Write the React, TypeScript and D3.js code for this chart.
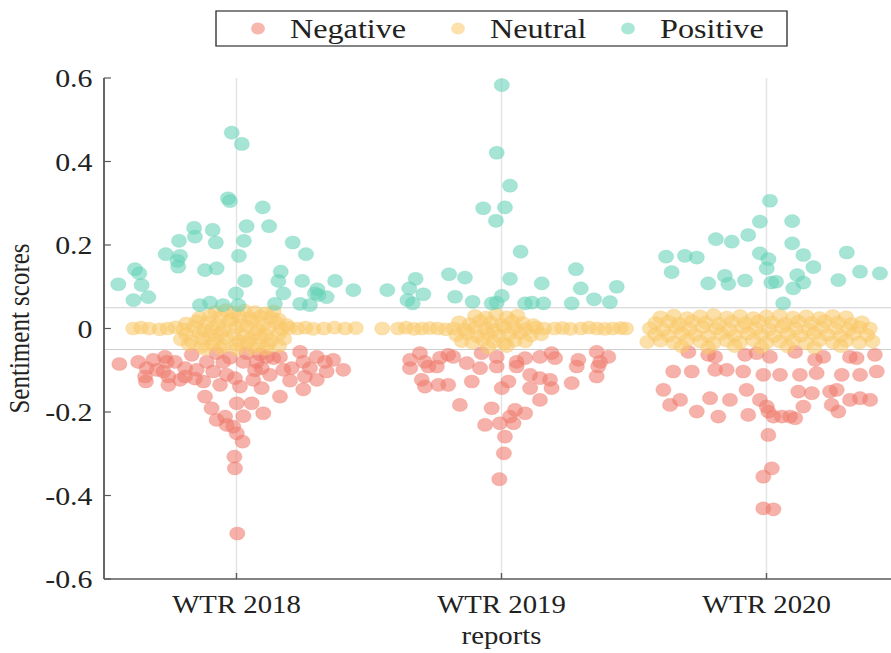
import * as d3 from 'd3';
import React, { useEffect, useRef } from 'react';

// each point: [x position in category units (1 = WTR 2018), sentiment score]
type Pt = [number, number];

const categories = ['WTR 2018', 'WTR 2019', 'WTR 2020'];
const yTicks = [-0.6, -0.4, -0.2, 0, 0.2, 0.4, 0.6];
const bandLines = [-0.05, 0.05];
const seriesNames = ['Negative', 'Neutral', 'Positive'];

const negative: Pt[] = [
  // WTR 2018
  [0.558, -0.085], [0.629, -0.08], [0.661, -0.095], [0.655, -0.115], [0.658, -0.127], [0.73, -0.068],
  [0.737, -0.08], [0.724, -0.103], [0.743, -0.115], [0.743, -0.135], [0.806, -0.095], [0.806, -0.115],
  [0.787, -0.123], [0.85, -0.099], [0.875, -0.127], [0.881, -0.163], [0.906, -0.191], [0.925, -0.219],
  [0.957, -0.211], [0.963, -0.231], [0.988, -0.235], [1.001, -0.251], [1.023, -0.271], [0.992, -0.307],
  [0.994, -0.335], [1.003, -0.491], [0.925, -0.059], [0.95, -0.08], [0.912, -0.103], [0.963, -0.111],
  [0.994, -0.119], [1.013, -0.139], [1.001, -0.179], [1.057, -0.179], [1.026, -0.21], [1.063, -0.123],
  [1.095, -0.143], [1.101, -0.203], [1.126, -0.111], [1.095, -0.095], [1.114, -0.068], [1.139, -0.071],
  [1.164, -0.068], [1.164, -0.163], [1.177, -0.099], [1.208, -0.095], [1.24, -0.056], [1.252, -0.08],
  [1.258, -0.115], [1.252, -0.146], [1.303, -0.068], [1.303, -0.123], [1.334, -0.08], [1.34, -0.103],
  [1.365, -0.075], [1.403, -0.099], [0.831, -0.063], [1.038, -0.059], [1.076, -0.08], [0.888, -0.08],
  [0.699, -0.099], [0.686, -0.075], [0.768, -0.08], [1.026, -0.08], [0.975, -0.07], [1.089, -0.062],
  [1.277, -0.095], [1.202, -0.125], [0.843, -0.12], [0.938, -0.135], [1.07, -0.1],
  // WTR 2019
  [1.655, -0.075], [1.692, -0.059], [1.711, -0.08], [1.724, -0.091], [1.756, -0.091], [1.699, -0.123],
  [1.711, -0.139], [1.762, -0.135], [1.799, -0.135], [1.799, -0.063], [1.818, -0.068], [1.869, -0.083],
  [1.888, -0.127], [1.843, -0.183], [1.919, -0.095], [1.925, -0.059], [1.982, -0.091], [2.001, -0.143],
  [2.026, -0.127], [1.963, -0.191], [1.938, -0.231], [1.994, -0.227], [2.032, -0.211], [2.051, -0.195],
  [2.089, -0.203], [2.045, -0.227], [2.013, -0.259], [2.009, -0.299], [1.992, -0.361], [2.057, -0.08],
  [2.089, -0.071], [2.108, -0.111], [2.108, -0.143], [2.145, -0.119], [2.145, -0.171], [2.183, -0.123],
  [2.189, -0.143], [2.145, -0.068], [2.189, -0.059], [2.202, -0.071], [2.265, -0.131], [2.29, -0.075],
  [2.284, -0.091], [2.359, -0.056], [2.372, -0.08], [2.365, -0.091], [2.403, -0.068], [2.359, -0.115],
  [2.057, -0.091], [1.982, -0.068], [1.768, -0.07], [1.655, -0.095],
  // WTR 2020
  [2.611, -0.147], [2.636, -0.183], [2.648, -0.103], [2.674, -0.171], [2.718, -0.103], [2.705, -0.056],
  [2.737, -0.199], [2.787, -0.167], [2.78, -0.063], [2.806, -0.068], [2.806, -0.099], [2.818, -0.211],
  [2.85, -0.099], [2.862, -0.171], [2.912, -0.103], [2.925, -0.147], [2.919, -0.063], [2.963, -0.059],
  [2.931, -0.207], [2.975, -0.171], [2.988, -0.111], [3.013, -0.068], [3.001, -0.187], [3.007, -0.199],
  [3.026, -0.211], [3.058, -0.211], [3.089, -0.211], [3.108, -0.215], [3.007, -0.255], [3.02, -0.335],
  [2.988, -0.355], [2.988, -0.431], [3.026, -0.433], [3.051, -0.111], [3.108, -0.056], [3.126, -0.111],
  [3.12, -0.151], [3.139, -0.187], [3.171, -0.155], [3.189, -0.107], [3.183, -0.075], [3.214, -0.068],
  [3.24, -0.151], [3.246, -0.183], [3.271, -0.199], [3.265, -0.147], [3.284, -0.111], [3.315, -0.171],
  [3.315, -0.068], [3.34, -0.071], [3.353, -0.167], [3.353, -0.111], [3.391, -0.171], [3.409, -0.063],
  [3.416, -0.103],
];

const neutral: Pt[] = [
  // WTR 2018
  [0.61, 0.0], [0.64, 0.002], [0.67, 0.0], [0.71, -0.002], [0.74, 0.0], [0.77, 0.003],
  [1.23, 0.0], [1.26, 0.002], [1.29, -0.001], [1.33, 0.0], [1.37, 0.002], [1.41, 0.0], [1.45, 0.001],
  [0.92, 0.04], [0.96, 0.044], [0.99, 0.038], [1.03, 0.043], [1.07, 0.039], [1.11, 0.036], [1.14, 0.041],
  [0.86, 0.026], [0.9, 0.031], [0.94, 0.027], [0.98, 0.022], [1.01, 0.03], [1.05, 0.025], [1.09, 0.029],
  [1.13, 0.026], [1.16, 0.021],
  [0.81, 0.012], [0.85, 0.017], [0.89, 0.014], [0.93, 0.008], [0.97, 0.016], [1.02, 0.009], [1.06, 0.018],
  [1.1, 0.01], [1.15, 0.014], [1.19, 0.008],
  [0.8, -0.002], [0.84, 0.003], [0.88, -0.005], [0.91, 0.001], [0.95, -0.004], [1.0, 0.002], [1.04, 0.004],
  [1.08, -0.003], [1.12, 0.0], [1.17, -0.002], [1.2, 0.001],
  [0.81, -0.014], [0.86, -0.01], [0.9, -0.017], [0.94, -0.011], [0.99, -0.015], [1.03, -0.019],
  [1.07, -0.012], [1.11, -0.016], [1.16, -0.013],
  [0.79, -0.026], [0.83, -0.03], [0.87, -0.024], [0.92, -0.028], [0.96, -0.023], [1.01, -0.031],
  [1.05, -0.026], [1.09, -0.022], [1.13, -0.029], [1.18, -0.025],
  [0.82, -0.038], [0.87, -0.042], [0.91, -0.036], [0.95, -0.041], [1.0, -0.039], [1.04, -0.035],
  [1.08, -0.041], [1.12, -0.037], [1.16, -0.042],
  [0.88, -0.049], [0.94, -0.047], [1.0, -0.05], [1.06, -0.048], [1.11, -0.049],
  // WTR 2019
  [1.55, 0.0], [1.61, 0.0], [1.64, 0.002], [1.67, -0.001], [1.7, 0.0], [1.73, 0.001], [1.76, 0.0], [1.79, -0.002],
  [2.2, 0.0], [2.23, 0.001], [2.26, -0.001], [2.3, 0.0], [2.33, 0.002], [2.36, 0.0], [2.39, -0.001],
  [2.42, 0.0], [2.45, 0.001], [2.47, 0.0],
  [1.9, 0.03], [1.94, 0.026], [1.98, 0.034], [2.02, 0.027], [2.06, 0.031],
  [1.84, 0.015], [1.88, 0.01], [1.92, 0.018], [1.96, 0.014], [2.0, 0.009], [2.04, 0.017], [2.08, 0.013], [2.12, 0.008],
  [1.82, 0.0], [1.86, -0.003], [1.9, 0.002], [1.94, 0.0], [1.97, -0.004], [2.01, 0.003], [2.05, 0.0],
  [2.09, -0.002], [2.13, 0.002], [2.16, 0.0],
  [1.83, -0.016], [1.87, -0.012], [1.91, -0.019], [1.95, -0.013], [1.99, -0.018], [2.03, -0.014],
  [2.07, -0.011], [2.11, -0.017], [2.15, -0.014],
  [1.85, -0.03], [1.89, -0.034], [1.93, -0.027], [1.97, -0.032], [2.01, -0.036], [2.05, -0.029], [2.09, -0.031],
  [1.95, -0.045], [2.02, -0.042],
  // WTR 2020
  [2.6, 0.027], [2.65, 0.031], [2.7, 0.025], [2.75, 0.029], [2.8, 0.032], [2.85, 0.026], [2.9, 0.03],
  [2.95, 0.025], [3.0, 0.029], [3.05, 0.031], [3.1, 0.026], [3.15, 0.029], [3.2, 0.025], [3.25, 0.03], [3.3, 0.027],
  [2.58, 0.013], [2.63, 0.016], [2.67, 0.011], [2.72, 0.017], [2.77, 0.014], [2.82, 0.011], [2.87, 0.016],
  [2.92, 0.013], [2.97, 0.017], [3.02, 0.014], [3.07, 0.011], [3.12, 0.016], [3.17, 0.013], [3.22, 0.017],
  [3.27, 0.014], [3.32, 0.011], [3.36, 0.015],
  [2.56, 0.0], [2.61, -0.003], [2.66, 0.002], [2.71, -0.002], [2.76, 0.003], [2.81, 0.0], [2.86, -0.003],
  [2.91, 0.002], [2.96, 0.0], [3.01, -0.002], [3.06, 0.003], [3.11, 0.0], [3.16, -0.003], [3.21, 0.002],
  [3.26, 0.0], [3.31, -0.002], [3.35, 0.003], [3.39, 0.0],
  [2.58, -0.014], [2.63, -0.017], [2.68, -0.012], [2.73, -0.015], [2.78, -0.018], [2.83, -0.013],
  [2.88, -0.017], [2.93, -0.012], [2.98, -0.015], [3.03, -0.018], [3.08, -0.013], [3.13, -0.017],
  [3.18, -0.012], [3.23, -0.015], [3.28, -0.018], [3.33, -0.013], [3.38, -0.016],
  [2.55, -0.032], [2.6, -0.029], [2.65, -0.034], [2.7, -0.028], [2.75, -0.031], [2.8, -0.035], [2.85, -0.029],
  [2.9, -0.033], [2.95, -0.028], [3.0, -0.034], [3.05, -0.031], [3.1, -0.029], [3.15, -0.035], [3.2, -0.028],
  [3.25, -0.033], [3.3, -0.029], [3.35, -0.034], [3.4, -0.031],
  [2.68, -0.043], [2.78, -0.046], [2.88, -0.042], [2.98, -0.045], [3.08, -0.043], [3.18, -0.046], [3.28, -0.042],
];

const positive: Pt[] = [
  // WTR 2018
  [0.982, 0.469], [1.02, 0.442], [0.968, 0.312], [0.975, 0.305], [1.099, 0.29], [1.038, 0.245],
  [1.123, 0.245], [0.84, 0.241], [0.91, 0.236], [0.843, 0.22], [0.783, 0.21], [0.922, 0.206],
  [1.028, 0.21], [1.212, 0.206], [0.733, 0.178], [0.787, 0.174], [0.777, 0.162], [1.009, 0.174],
  [1.262, 0.178], [0.78, 0.148], [0.617, 0.142], [0.633, 0.132], [0.881, 0.14], [0.925, 0.144],
  [1.167, 0.136], [0.554, 0.106], [0.642, 0.104], [1.032, 0.114], [1.158, 0.114], [1.248, 0.114],
  [1.372, 0.114], [1.305, 0.094], [1.441, 0.092], [0.611, 0.068], [0.667, 0.075], [0.998, 0.084],
  [1.177, 0.084], [1.34, 0.075], [1.296, 0.084], [0.862, 0.056], [0.9, 0.062], [1.007, 0.056],
  [1.145, 0.059], [1.24, 0.059], [1.277, 0.056], [1.309, 0.08], [0.949, 0.056],
  // WTR 2019
  [2.001, 0.583], [1.982, 0.421], [2.032, 0.342], [1.931, 0.288], [2.013, 0.29], [1.979, 0.258],
  [2.072, 0.184], [1.802, 0.13], [1.862, 0.122], [1.676, 0.119], [2.032, 0.119], [2.281, 0.142],
  [2.152, 0.108], [1.569, 0.092], [1.652, 0.096], [1.705, 0.082], [1.645, 0.068], [1.825, 0.076],
  [1.891, 0.064], [2.001, 0.078], [1.963, 0.06], [2.299, 0.096], [2.435, 0.1], [2.349, 0.07],
  [2.409, 0.063], [2.089, 0.06], [2.158, 0.06], [2.265, 0.06], [1.665, 0.06], [1.982, 0.062], [2.115, 0.062],
  // WTR 2020
  [3.013, 0.306], [2.975, 0.256], [3.097, 0.257], [2.931, 0.224], [2.809, 0.214], [2.869, 0.208],
  [3.097, 0.204], [2.621, 0.172], [2.692, 0.174], [2.737, 0.17], [2.975, 0.18], [3.007, 0.166],
  [3.139, 0.176], [3.303, 0.182], [2.642, 0.135], [3.001, 0.144], [3.177, 0.147], [3.353, 0.136],
  [3.428, 0.132], [2.843, 0.126], [2.78, 0.108], [2.856, 0.107], [2.919, 0.115], [3.018, 0.11],
  [3.036, 0.112], [3.116, 0.128], [3.139, 0.11], [3.101, 0.096], [3.271, 0.116], [3.063, 0.06],
];

const colors = ['#f07a6c', '#f9c96a', '#66d3b6'];

const width = 891;
const height = 653;
// the picture is wider than tall in its glyphs and dots, so the plot is drawn
// in a narrower frame and stretched sideways
const sx = 1.15;
const innerW = width / sx;
const margin = { top: 78, bottom: 74, left: 104 / sx };
const font = '"Liberation Serif", "Times New Roman", serif';

const SentimentSwarm: React.FC = () => {
  const ref = useRef<SVGSVGElement>(null);
  useEffect(() => {
    const svg = d3.select(ref.current);
    svg.selectAll('*').remove();
    const root = svg.append('g').attr('transform', `scale(${sx},1)`);

    const x = d3
      .scaleLinear()
      .domain([0.5, categories.length + 0.5])
      .range([margin.left, 899 / sx]);
    const y = d3
      .scaleLinear()
      .domain([-0.6, 0.6])
      .range([height - margin.bottom, margin.top]);
    const y0 = y(-0.6);
    const y1 = y(0.6);

    // vertical guides at each report
    root
      .append('g')
      .selectAll('line')
      .data(categories)
      .join('line')
      .attr('x1', (_, i) => x(i + 1))
      .attr('x2', (_, i) => x(i + 1))
      .attr('y1', y1)
      .attr('y2', y0)
      .attr('stroke', '#e4e4e4')
      .attr('stroke-width', 1.3);

    // neutral band limits
    root
      .append('g')
      .selectAll('line')
      .data(bandLines)
      .join('line')
      .attr('x1', x(0.5))
      .attr('x2', innerW)
      .attr('y1', (d) => y(d))
      .attr('y2', (d) => y(d))
      .attr('stroke', '#cfcfcf')
      .attr('stroke-width', 1);

    const groups = [negative, neutral, positive];
    groups.forEach((pts, k) => {
      root
        .append('g')
        .selectAll('circle')
        .data(pts)
        .join('circle')
        .attr('cx', (d) => x(d[0]))
        .attr('cy', (d) => y(d[1]))
        .attr('r', 6.6)
        .attr('fill', colors[k])
        .attr('fill-opacity', 0.58)
        .attr('stroke', colors[k])
        .attr('stroke-opacity', 0.25);
    });

    // axes
    const axisColor = '#5a5a5a';
    const ax = root.append('g');
    ax.append('line')
      .attr('x1', x(0.5))
      .attr('x2', x(0.5))
      .attr('y1', y1)
      .attr('y2', y0)
      .attr('stroke', axisColor)
      .attr('stroke-width', 1.6);
    ax.append('line')
      .attr('x1', x(0.5))
      .attr('x2', innerW)
      .attr('y1', y0)
      .attr('y2', y0)
      .attr('stroke', axisColor)
      .attr('stroke-width', 1.6);

    ax.selectAll('.ytick')
      .data(yTicks)
      .join('line')
      .attr('class', 'ytick')
      .attr('x1', x(0.5))
      .attr('x2', x(0.5) + 6)
      .attr('y1', (d) => y(d))
      .attr('y2', (d) => y(d))
      .attr('stroke', axisColor)
      .attr('stroke-width', 1.2);
    ax.selectAll('.ylab')
      .data(yTicks)
      .join('text')
      .attr('class', 'ylab')
      .attr('x', x(0.5) - 10)
      .attr('y', (d) => y(d))
      .attr('dy', '0.35em')
      .attr('text-anchor', 'end')
      .attr('font-family', font)
      .attr('font-size', 26)
      .attr('fill', '#222')
      .text((d) => (d === 0 ? '0' : String(d)));

    ax.selectAll('.xtick')
      .data(categories)
      .join('line')
      .attr('class', 'xtick')
      .attr('x1', (_, i) => x(i + 1))
      .attr('x2', (_, i) => x(i + 1))
      .attr('y1', y0)
      .attr('y2', y0 - 6)
      .attr('stroke', axisColor)
      .attr('stroke-width', 1.2);
    ax.selectAll('.xlab')
      .data(categories)
      .join('text')
      .attr('class', 'xlab')
      .attr('x', (_, i) => x(i + 1))
      .attr('y', y0 + 34)
      .attr('text-anchor', 'middle')
      .attr('font-family', font)
      .attr('font-size', 25)
      .attr('fill', '#222')
      .text((d) => d);

    root
      .append('text')
      .attr('x', x(2))
      .attr('y', y0 + 65)
      .attr('text-anchor', 'middle')
      .attr('font-family', font)
      .attr('font-size', 25)
      .attr('fill', '#222')
      .text('reports');

    root
      .append('text')
      .attr('transform', `translate(25,${(y0 + y1) / 2}) rotate(-90)`)
      .attr('text-anchor', 'middle')
      .attr('font-family', font)
      .attr('font-size', 25)
      .attr('fill', '#222')
      .text('Sentiment scores');

    // legend
    const leg = root.append('g');
    leg.append('rect')
      .attr('x', 216 / sx)
      .attr('y', 11)
      .attr('width', (787 - 216) / sx)
      .attr('height', 35)
      .attr('fill', '#fff')
      .attr('stroke', '#333')
      .attr('stroke-width', 1.2);
    const legX = [258, 458, 628].map((v) => v / sx);
    const item = leg
      .selectAll('.item')
      .data(seriesNames)
      .join('g')
      .attr('class', 'item')
      .attr('transform', (_, i) => `translate(${legX[i]},28.5)`);
    item.append('circle')
      .attr('r', 6)
      .attr('fill', (_, i) => colors[i])
      .attr('fill-opacity', 0.55);
    item.append('text')
      .attr('x', 32 / sx)
      .attr('dy', '0.35em')
      .attr('font-family', font)
      .attr('font-size', 28)
      .attr('fill', '#222')
      .text((d) => d);
  }, []);
  return (
    <svg
      ref={ref}
      width={width}
      height={height}
      style={{ position: 'absolute', left: 0, top: 0, background: '#fff' }}
    ></svg>
  );
};

export default SentimentSwarm;
